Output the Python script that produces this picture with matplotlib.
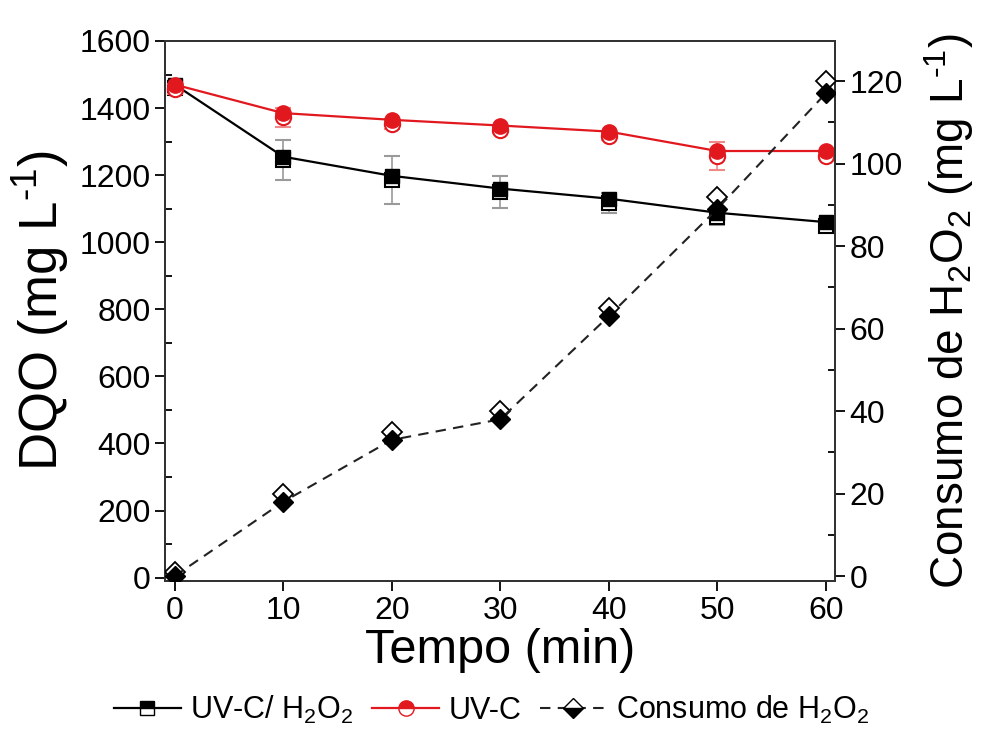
import matplotlib
matplotlib.use("Agg")
import matplotlib.pyplot as plt
from matplotlib.lines import Line2D
from matplotlib.ticker import MultipleLocator

plt.rcParams['font.family'] = ['Liberation Sans', 'DejaVu Sans']
plt.rcParams['mathtext.fontset'] = 'custom'
plt.rcParams['mathtext.rm'] = 'Liberation Sans'
plt.rcParams['mathtext.default'] = 'regular'

# ---- data ----
tempo = [0, 10, 20, 30, 40, 50, 60]
uvc_h2o2_a = [1470, 1255, 1198, 1160, 1130, 1088, 1060]
uvc_h2o2_b = [1460, 1245, 1186, 1150, 1118, 1075, 1048]
uvc_h2o2_err = [15, 60, 72, 48, 30, 25, 15]
uvc_a = [1470, 1385, 1365, 1348, 1330, 1272, 1272]
uvc_b = [1456, 1372, 1352, 1335, 1318, 1258, 1258]
uvc_err = [15, 28, 15, 10, 12, 42, 10]
consumo_a = [0, 18, 33, 38, 63, 89, 117]
consumo_b = [1, 20, 35, 40, 65, 92, 120]

x_ticks = [0, 10, 20, 30, 40, 50, 60]
left_ticks = [0, 200, 400, 600, 800, 1000, 1200, 1400, 1600]
right_ticks = [0, 20, 40, 60, 80, 100, 120]

RED = '#e2181f'

fig = plt.figure(figsize=(9.83, 7.32), dpi=100)
ax = fig.add_axes([165/983, 1 - 581/732, (835-165)/983, (581-41)/732])
ax2 = ax.twinx()

# UV-C/H2O2 replicate (open) with error bars
ax.errorbar(tempo, uvc_h2o2_b, yerr=uvc_h2o2_err, fmt='s', ms=10, mfc='white',
            mec='black', mew=1.5, ecolor='#9a9a9a', elinewidth=1.2, capsize=6,
            capthick=1.2, zorder=3)
ax.plot(tempo, uvc_h2o2_a, '-', color='black', lw=1.6, marker='s', ms=10,
        mfc='black', mec='black', zorder=4)

# UV-C replicate (open) with error bars
ax.errorbar(tempo, uvc_b, yerr=uvc_err, fmt='o', ms=11, mfc='white',
            mec=RED, mew=1.5, ecolor='#f08a8a', elinewidth=1.2, capsize=6,
            capthick=1.2, zorder=5)
ax.plot(tempo, uvc_a, '-', color=RED, lw=1.6, marker='o', ms=11,
        mfc=RED, mec=RED, zorder=6)

# Consumo de H2O2
ax2.plot(tempo, consumo_b, linestyle='none', marker='D', ms=10, mfc='white',
         mec='black', mew=1.3, zorder=3)
ax2.plot(tempo, consumo_a, color='#222222', lw=1.5, ls=(0, (5, 3.5)), marker='D',
         ms=10, mfc='black', mec='black', zorder=4)

ax.set_xlim(-0.9, 60.85)
ax.set_ylim(-10, 1600)
ax2.set_ylim(-1.2, 129.7)

ax.set_xticks(x_ticks)
ax.set_yticks(left_ticks)
ax2.set_yticks(right_ticks)
ax.yaxis.set_minor_locator(MultipleLocator(100))
ax2.yaxis.set_minor_locator(MultipleLocator(10))

ax.tick_params(axis='both', which='major', direction='out', length=7, width=1.3,
               labelsize=23, colors='black')
ax.tick_params(axis='y', which='minor', direction='in', length=5, width=1.3)
ax2.tick_params(axis='y', which='major', direction='out', length=7, width=1.3,
                labelsize=23)
ax2.tick_params(axis='y', which='minor', direction='in', length=5, width=1.3)

for a in (ax, ax2):
    for s in a.spines.values():
        s.set_linewidth(1.4)
        s.set_color('#333333')

ax.set_xlabel('Tempo (min)', fontsize=35, labelpad=2)
ax.set_ylabel(r'DQO (mg L$^{\text{-1}}$)', fontsize=38, labelpad=6)
ax2.set_ylabel(r'Consumo de H$_2$O$_2$ (mg L$^{\text{-1}}$)', fontsize=33,
               labelpad=12)
ax2.yaxis.set_label_coords(1.13, 0.5)

handles = [
    Line2D([], [], color='black', lw=1.6, marker='s', ms=10, mfc='black',
           markerfacecoloralt='white', fillstyle='top', mec='black'),
    Line2D([], [], color=RED, lw=1.6, marker='o', ms=11, mfc=RED,
           markerfacecoloralt='white', fillstyle='top', mec=RED),
    Line2D([], [], color='#222222', lw=1.5, ls=(0, (5, 3.5)), marker='D', ms=10,
           mfc='black', markerfacecoloralt='white', fillstyle='bottom', mec='black'),
]
labels = ['UV-C/ H$_2$O$_2$', 'UV-C', 'Consumo de H$_2$O$_2$']
fig.legend(handles, labels, loc='center', bbox_to_anchor=(0.5, 0.03), ncol=3,
           frameon=False, fontsize=22, handlelength=2.2, handletextpad=0.3,
           columnspacing=0.6)

fig.savefig('out.png', dpi=100)
